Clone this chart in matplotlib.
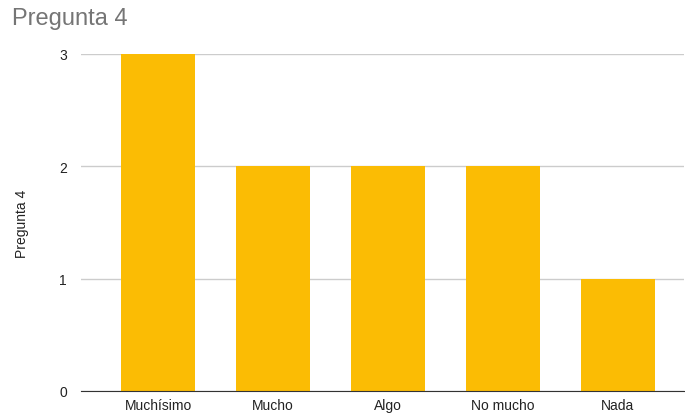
import matplotlib
matplotlib.use('Agg')
import matplotlib.pyplot as plt

categories = ['Muchísimo', 'Mucho', 'Algo', 'No mucho', 'Nada']
values = [3, 2, 2, 2, 1]
yticks = [0, 1, 2, 3]

plt.rcParams['font.family'] = ['Liberation Sans', 'DejaVu Sans']

fig = plt.figure(figsize=(6.85, 4.14), dpi=100)
ax = fig.add_axes([81 / 685, 22 / 414, 603 / 685, 337 / 414])

x = list(range(len(categories)))
ax.bar(x, values, width=0.643, color='#fbbc04', zorder=3, clip_on=False)

ax.set_xlim(-0.67, 4.574)
ax.set_ylim(0, 3)
ax.set_yticks(yticks)
ax.set_xticks(x)
ax.set_xticklabels(categories, fontsize=10, color='#222222')
ax.set_yticklabels([str(t) for t in yticks], fontsize=10, color='#222222')
ax.tick_params(length=0, axis='both')
ax.tick_params(axis='y', pad=10)
ax.tick_params(axis='x', pad=5)

ax.grid(axis='y', color='#cccccc', linewidth=1, zorder=0)
for s in ['top', 'right', 'left']:
    ax.spines[s].set_visible(False)
ax.spines['bottom'].set_color('#333333')
ax.spines['bottom'].set_zorder(4)

ax.set_ylabel('Pregunta 4', fontsize=10, color='#222222', labelpad=22)

fig.text(12 / 685, 1 - 8 / 414, 'Pregunta 4', fontsize=17, color='#757575',
         ha='left', va='top')

fig.savefig('out.png', dpi=100)
